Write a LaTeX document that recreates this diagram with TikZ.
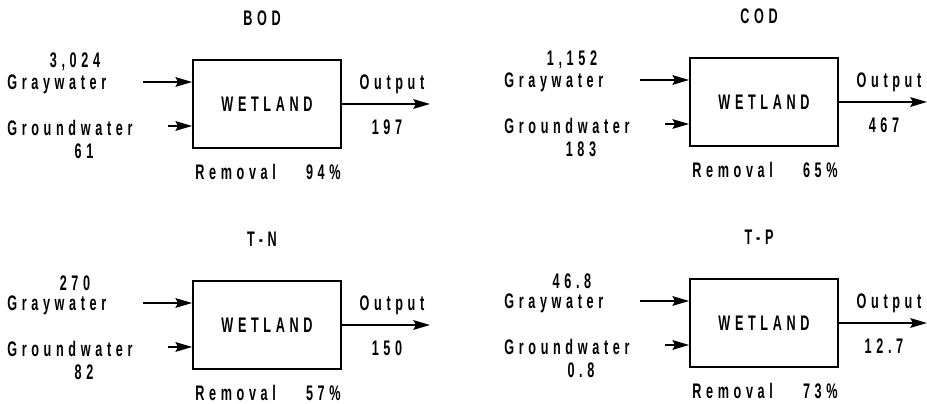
\documentclass[tikz,border=0pt]{standalone}
\usepackage{fontspec}
\setmainfont{Liberation Sans}
\newfontfamily\wetfont[LetterSpace=22,FakeStretch=0.6]{Liberation Sans}
\usetikzlibrary{arrows.meta,positioning,calc}
\tikzset{
  wetbox/.style={draw, line width=1pt, minimum width=2.96cm, minimum height=1.76cm,
                 inner sep=0pt, font=\wetfont\bfseries\fontsize{12pt}{14pt}\selectfont},
  wetlabel/.style={inner sep=0pt, font=\wetfont\bfseries\fontsize{12pt}{14pt}\selectfont},
  warr/.style={-{Stealth[length=9.5pt,width=5.5pt,inset=1.5pt]}, line width=1pt},
}
% one panel: name, shift, title, graywater, groundwater, output, removal
\newcommand{\wetpanel}[7]{%
  \begin{scope}[shift={(#2)}]
    \node[wetlabel] (#1ttl) at (262,18) {#3};
    \node[wetbox] (#1box) at (267,104) {WETLAND};
    \coordinate (#1gin) at (143,82);
    \coordinate (#1din) at (168,126);
    \coordinate (#1out) at (430,104);
    \node[wetlabel] (#1gval) at (75,62) {#4};
    \node[wetlabel, anchor=west] (#1gray) at (7,84) {Graywater};
    \node[wetlabel, anchor=west] (#1grnd) at (7,128) {Groundwater};
    \node[wetlabel] (#1dval) at (84,151) {#5};
    \node[wetlabel] (#1olab) at (392,84) {Output};
    \node[wetlabel] (#1oval) at (387,127) {#6};
    \node[wetlabel, anchor=west] (#1rem) at (195,172) {Removal};
    \node[wetlabel, anchor=east] (#1pct) at (341,172) {#7};
    \draw[warr] (#1gin) -- (#1gin -| #1box.west);
    \draw[warr] (#1din) -- (#1din -| #1box.west);
    \draw[warr] (#1box.east) -- (#1out);
  \end{scope}}

\begin{document}
\begin{tikzpicture}[x=0.02cm, y=-0.02cm]
  \useasboundingbox (0,0) rectangle (927,404);
  \wetpanel{bod}{0,0}{BOD}{3,024}{61}{197}{94\%}
  \wetpanel{cod}{497,-2}{COD}{1,152}{183}{467}{65\%}
  \wetpanel{tn}{0,221}{T-N}{270}{82}{150}{57\%}
  \wetpanel{tp}{497,219}{T-P}{46.8}{0.8}{12.7}{73\%}
\end{tikzpicture}
\end{document}
